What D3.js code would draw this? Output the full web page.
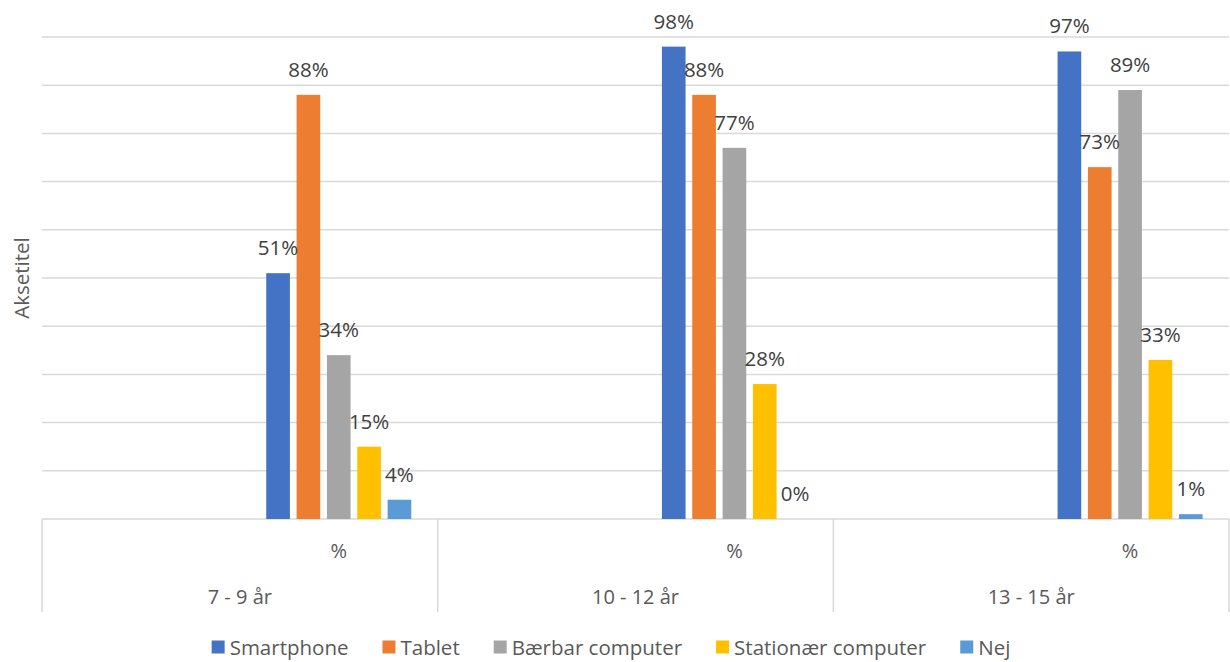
<!DOCTYPE html>
<html>
<head>
<meta charset="utf-8">
<script src="https://cdn.jsdelivr.net/npm/d3@7"></script>
<style>
  html, body { margin: 0; padding: 0; background: #fff; }
  svg { display: block; font-family: "Open Sans", "DejaVu Sans", sans-serif; }
</style>
</head>
<body>
<svg id="chart" width="1230" height="662"></svg>
<script>
// Age groups (outer category level) and the inner sub-category labels
const ageGroups = ["7 - 9 år", "10 - 12 år", "13 - 15 år"];
const subCategories = ["", "%"];

// Device series
const seriesNames = ["Smartphone", "Tablet", "Bærbar computer", "Stationær computer", "Nej"];
const seriesColors = ["#4472C4", "#ED7D31", "#A5A5A5", "#FFC000", "#5B9BD5"];

// Share (%) per age group, one array per device
const smartphone = [51, 98, 97];
const tablet = [88, 88, 73];
const baerbar = [34, 77, 89];
const stationaer = [15, 28, 33];
const nej = [4, 0, 1];
const seriesValues = [smartphone, tablet, baerbar, stationaer, nej];

const yTicks = [0, 10, 20, 30, 40, 50, 60, 70, 80, 90, 100];
const axisTitle = "Aksetitel";

const svg = d3.select("#chart");
const plot = { left: 42, right: 1229, top: 37, bottom: 519, axisBottom: 612 };

const gridColor = "#d9d9d9";
const textColor = "#595959";
const labelColor = "#404040";

const y = d3.scaleLinear().domain([0, 100]).range([plot.bottom, plot.top]);
const xGroup = d3.scaleBand().domain(ageGroups).range([plot.left, plot.right]);
const xSub = d3.scaleBand().domain(subCategories).range([0, xGroup.bandwidth()]);
const xSeries = d3.scaleBand().domain(seriesNames)
  .range([26.4, xSub.bandwidth() - 26.4])
  .paddingInner(0.22);

// Horizontal gridlines
svg.append("g")
  .selectAll("line")
  .data(yTicks.slice(1))
  .join("line")
  .attr("x1", plot.left).attr("x2", plot.right)
  .attr("y1", d => y(d)).attr("y2", d => y(d))
  .attr("stroke", gridColor).attr("stroke-width", 1.5);

// Category axis: baseline + dividers between age groups
const axisG = svg.append("g");
axisG.append("line")
  .attr("x1", plot.left).attr("x2", plot.right)
  .attr("y1", y(0)).attr("y2", y(0))
  .attr("stroke", gridColor).attr("stroke-width", 1.5);

const dividers = ageGroups.map(g => xGroup(g)).concat([xGroup(ageGroups[ageGroups.length - 1]) + xGroup.bandwidth()]);
axisG.selectAll("line.div")
  .data(dividers)
  .join("line")
  .attr("class", "div")
  .attr("x1", d => d).attr("x2", d => d)
  .attr("y1", y(0)).attr("y2", plot.axisBottom)
  .attr("stroke", gridColor).attr("stroke-width", 1.5);

// Inner level labels
ageGroups.forEach(g => {
  subCategories.forEach(s => {
    axisG.append("text")
      .attr("x", xGroup(g) + xSub(s) + xSub.bandwidth() / 2)
      .attr("y", 558)
      .attr("text-anchor", "middle")
      .attr("font-size", 20)
      .attr("fill", textColor)
      .text(s);
  });
});

// Outer level labels
axisG.selectAll("text.grp")
  .data(ageGroups)
  .join("text")
  .attr("class", "grp")
  .attr("x", d => xGroup(d) + xGroup.bandwidth() / 2)
  .attr("y", 604)
  .attr("text-anchor", "middle")
  .attr("font-size", 20)
  .attr("fill", textColor)
  .text(d => d);

// Bars and value labels
const barData = [];
ageGroups.forEach((g, gi) => {
  seriesNames.forEach((s, si) => {
    barData.push({ group: g, series: s, color: seriesColors[si], value: seriesValues[si][gi] });
  });
});

const barX = d => xGroup(d.group) + xSub("%") + xSeries(d.series);

svg.append("g")
  .selectAll("rect")
  .data(barData)
  .join("rect")
  .attr("x", barX)
  .attr("y", d => y(d.value))
  .attr("width", xSeries.bandwidth())
  .attr("height", d => y(0) - y(d.value))
  .attr("fill", d => d.color);

svg.append("g")
  .selectAll("text")
  .data(barData)
  .join("text")
  .attr("x", d => barX(d) + xSeries.bandwidth() / 2)
  .attr("y", d => y(d.value) - 18)
  .attr("text-anchor", "middle")
  .attr("font-size", 20.5)
  .attr("fill", labelColor)
  .text(d => d.value + "%");

// Value axis title
svg.append("text")
  .attr("transform", "translate(29,278) rotate(-90)")
  .attr("text-anchor", "middle")
  .attr("font-size", 20.5)
  .attr("fill", textColor)
  .text(axisTitle);

// Legend, laid out from measured text widths and centred
const legend = svg.append("g");
const sw = 13, gapText = 5, gapItem = 34;
const items = seriesNames.map((name, i) => {
  const g = legend.append("g");
  g.append("rect").attr("width", sw).attr("height", sw).attr("y", -sw / 2 - 1).attr("fill", seriesColors[i]);
  const t = g.append("text")
    .attr("x", sw + gapText)
    .attr("y", 0)
    .attr("dy", "0.35em")
    .attr("font-size", 20.5)
    .attr("fill", textColor)
    .text(name);
  return { g, w: sw + gapText + t.node().getComputedTextLength() };
});
const totalW = d3.sum(items, d => d.w) + gapItem * (items.length - 1);
let lx = 611 - totalW / 2;
items.forEach(it => {
  it.g.attr("transform", `translate(${lx},648)`);
  lx += it.w + gapItem;
});
</script>
</body>
</html>
